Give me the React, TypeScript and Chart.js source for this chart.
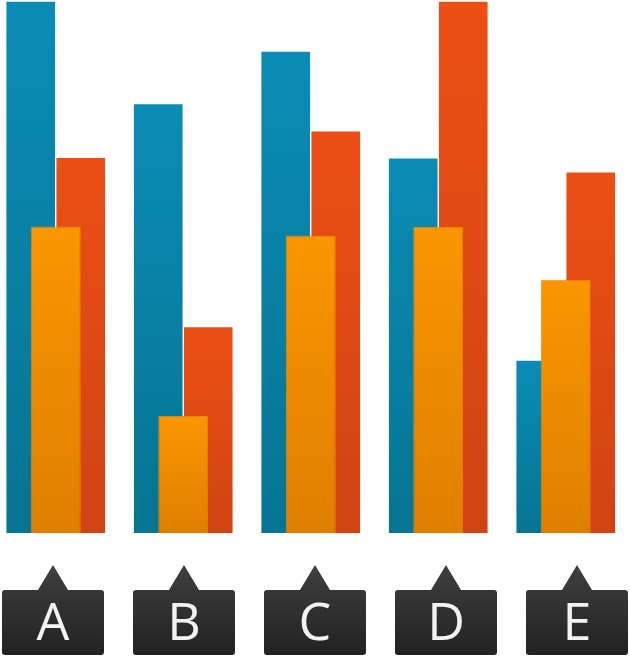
import { useEffect, useRef } from "react";
import { Chart, registerables } from "chart.js";

Chart.register(...registerables);

const categories = ["A", "B", "C", "D", "E"];
const blueValues = [100, 80.7, 90.6, 70.5, 32.5];
const redValues = [70.6, 38.8, 75.6, 100, 67.9];
const orangeValues = [57.6, 22.0, 55.9, 57.5, 47.6];
const labelPositions = [0, 1, 2, 3, 4];

const BLUE = ["#0a8cb6", "#067492"];
const RED = ["#ec4f14", "#d04313"];
const ORANGE = ["#fa9600", "#df7f00"];

function barGradient(colors: string[]) {
  return (ctx: any) => {
    const chart = ctx.chart;
    const area = chart.chartArea;
    const y = chart.scales.y;
    if (!area || !y || ctx.raw == null) return colors[0];
    const top = y.getPixelForValue(ctx.raw);
    const bottom = y.getPixelForValue(0);
    if (!isFinite(top) || !isFinite(bottom) || top === bottom) return colors[0];
    const g = chart.ctx.createLinearGradient(0, top, 0, bottom);
    g.addColorStop(0, colors[0]);
    g.addColorStop(1, colors[1]);
    return g;
  };
}

const labelPlugin = {
  id: "labelBoxes",
  afterDraw(chart: any) {
    const ctx = chart.ctx;
    const xl = chart.scales.xl;
    const base = chart.chartArea.bottom;
    const apexY = base + 32;
    const boxTop = base + 57;
    const boxBottom = base + 122;
    const half = 51;
    const r = 3;
    ctx.save();
    labelPositions.forEach((p, i) => {
      const cx = xl.getPixelForValue(p);
      const g = ctx.createLinearGradient(0, apexY, 0, boxBottom);
      g.addColorStop(0, "#3f3f3f");
      g.addColorStop(1, "#222222");
      ctx.fillStyle = g;
      ctx.beginPath();
      ctx.moveTo(cx - half + r, boxTop);
      ctx.lineTo(cx - 15, boxTop);
      ctx.lineTo(cx, apexY);
      ctx.lineTo(cx + 15, boxTop);
      ctx.lineTo(cx + half - r, boxTop);
      ctx.quadraticCurveTo(cx + half, boxTop, cx + half, boxTop + r);
      ctx.lineTo(cx + half, boxBottom - r);
      ctx.quadraticCurveTo(cx + half, boxBottom, cx + half - r, boxBottom);
      ctx.lineTo(cx - half + r, boxBottom);
      ctx.quadraticCurveTo(cx - half, boxBottom, cx - half, boxBottom - r);
      ctx.lineTo(cx - half, boxTop + r);
      ctx.quadraticCurveTo(cx - half, boxTop, cx - half + r, boxTop);
      ctx.closePath();
      ctx.fill();
      ctx.fillStyle = "#f2f2f2";
      ctx.font = '52px "Open Sans", "Noto Sans", sans-serif';
      ctx.textAlign = "center";
      ctx.textBaseline = "alphabetic";
      ctx.fillText(categories[i], cx, base + 107);
    });
    ctx.restore();
  },
};

export default function App() {
  const ref = useRef<HTMLCanvasElement | null>(null);

  useEffect(() => {
    if (!ref.current) return;
    const chart = new Chart(ref.current, {
      type: "bar",
      data: {
        labels: categories,
        datasets: [
          {
            label: "Orange",
            data: orangeValues,
            xAxisID: "x",
            yAxisID: "y",
            order: 0,
            grouped: false,
            barPercentage: 1,
            maxBarThickness: 50,
            backgroundColor: barGradient(ORANGE),
            borderColor: "rgba(240,140,0,0.9)",
            borderWidth: { top: 1, left: 1, right: 1, bottom: 0 },
          },
          {
            label: "Blue",
            data: blueValues,
            xAxisID: "x",
            yAxisID: "y",
            order: 1,
            backgroundColor: barGradient(BLUE),
            borderColor: "rgba(255,255,255,0.45)",
            borderWidth: { top: 1, left: 1, right: 1, bottom: 0 },
            barThickness: 50,
          },
          {
            label: "Red",
            data: redValues,
            xAxisID: "x",
            yAxisID: "y",
            order: 1,
            backgroundColor: barGradient(RED),
            borderColor: "rgba(255,255,255,0.45)",
            borderWidth: { top: 1, left: 1, right: 1, bottom: 0 },
            barThickness: 50,
          },
        ],
      },
      options: {
        responsive: false,
        animation: false,
        devicePixelRatio: 1,
        layout: { padding: { left: 0, right: 8.5, top: 1, bottom: 125 } },
        plugins: {
          legend: { display: false },
          tooltip: { enabled: false },
        },
        scales: {
          x: { type: "category", display: false, offset: true },
          xl: { type: "linear", display: false, offset: false, min: -0.4656, max: 4.4008, position: "bottom" },
          y: { type: "linear", display: false, min: 0, max: 100 },
        },
      },
      plugins: [labelPlugin],
    });
    return () => chart.destroy();
  }, []);

  return (
    <div style={{ position: "absolute", left: 0, top: 0, width: 646, height: 658, marginLeft: -8 }}>
      <canvas ref={ref} width={646} height={658} style={{ display: "block" }} />
    </div>
  );
}
